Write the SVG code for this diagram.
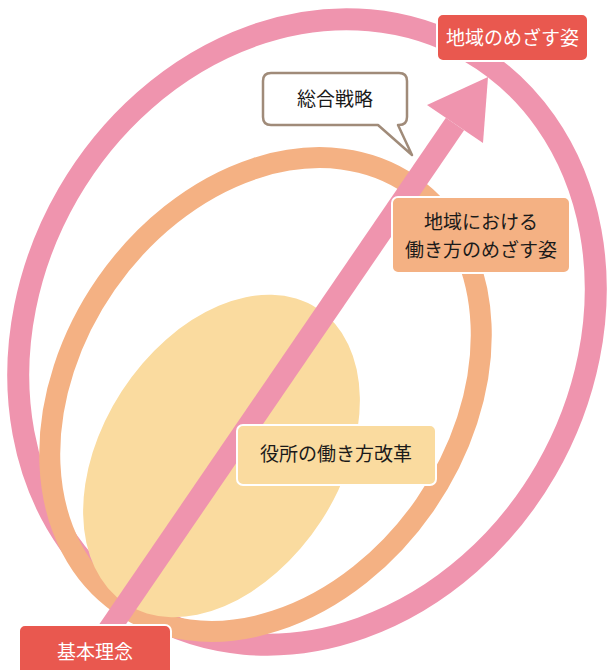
<svg xmlns="http://www.w3.org/2000/svg" width="608" height="670" viewBox="0 0 608 670">
<style>
.t{font-family:"Noto Sans CJK JP","Noto Sans CJK SC",sans-serif;font-size:19px;text-anchor:middle}
.w{fill:#ffffff}
.k{fill:#1a1a1a}
.box{stroke:#ffffff;stroke-width:2}
</style>
<rect width="608" height="670" fill="#ffffff"/>
<g id="rings">
<ellipse id="outer-ring" cx="307" cy="332" rx="324" ry="276" transform="rotate(-60 307 332)" fill="none" stroke="#EF94AE" stroke-width="22"/>
<ellipse id="middle-ring" cx="265.5" cy="394.5" rx="255" ry="194" transform="rotate(-55.2 265.5 394.5)" fill="none" stroke="#F4B183" stroke-width="21"/>
<ellipse id="inner-core" cx="221.5" cy="456" rx="176" ry="119" transform="rotate(-57 221.5 456)" fill="#FADB9F"/>
</g>
<g id="connectors">
<line x1="95" y1="650" x2="455" y2="124" stroke="#EF94AE" stroke-width="22"/>
<polygon points="488,77 427,105 483,143" fill="#EF94AE"/>
</g>
<g id="node-goal">
<rect class="box" x="437" y="14" width="151" height="47" rx="6" fill="#E9584F"/>
<text class="t w" x="512.5" y="44.5">地域のめざす姿</text>
</g>
<g id="node-strategy">
<path d="M271,73 H399 Q407,73 407,81 V117 Q407,125 399,125 H398 L412,155 L378,125 H271 Q263,125 263,117 V81 Q263,73 271,73 Z" fill="#ffffff" stroke="#A08B79" stroke-width="2.5" stroke-linejoin="round"/>
<text class="t k" x="335" y="106">総合戦略</text>
</g>
<g id="node-workstyle">
<rect class="box" x="392" y="197" width="178" height="76" rx="6" fill="#F4B183"/>
<text class="t k" x="481" y="228.5">地域における</text>
<text class="t k" x="481" y="257">働き方のめざす姿</text>
</g>
<g id="node-reform">
<rect class="box" x="237" y="425" width="199" height="60" rx="6" fill="#FADB9F"/>
<text class="t k" x="336" y="461">役所の働き方改革</text>
</g>
<g id="node-philosophy">
<rect class="box" x="19" y="625" width="152" height="52" rx="6" fill="#E9584F"/>
<text class="t w" x="95" y="659">基本理念</text>
</g>
</svg>
